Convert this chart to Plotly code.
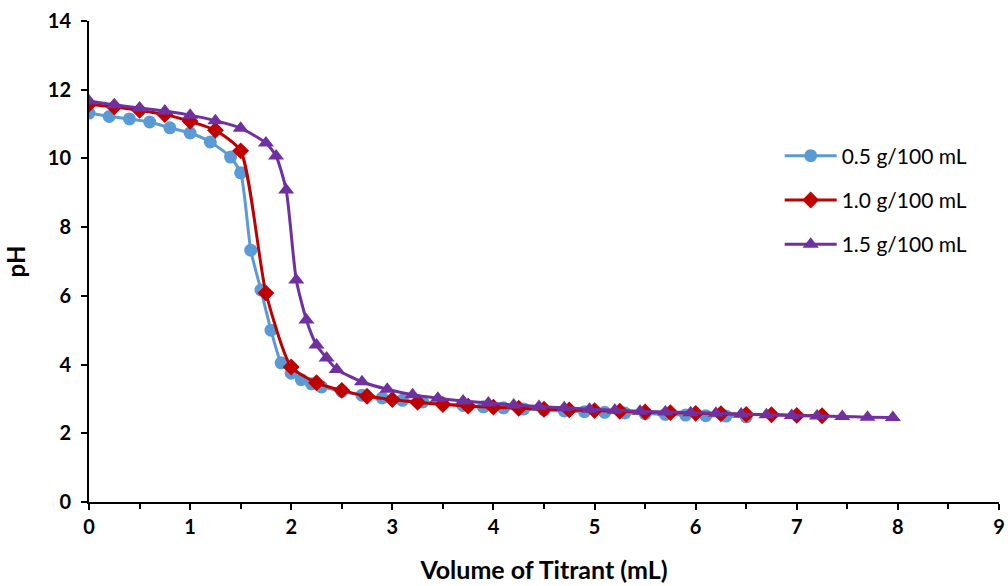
import plotly.graph_objects as go

# 0.5 g/100 mL
x_05 = [0, 0.2, 0.4, 0.6, 0.8, 1.0, 1.2, 1.4, 1.5, 1.6, 1.7, 1.8, 1.9, 2.0, 2.1, 2.2, 2.3,
        2.5, 2.7, 2.9, 3.1, 3.3, 3.5, 3.7, 3.9, 4.1, 4.3, 4.5, 4.7, 4.9, 5.1, 5.3, 5.5,
        5.7, 5.9, 6.1, 6.3, 6.5]
y_05 = [11.32, 11.22, 11.15, 11.06, 10.89, 10.74, 10.48, 10.04, 9.58, 7.33, 6.17, 5.0, 4.05,
        3.75, 3.56, 3.44, 3.35, 3.22, 3.11, 3.03, 2.96, 2.91, 2.86, 2.81, 2.77, 2.74, 2.71,
        2.68, 2.65, 2.63, 2.61, 2.59, 2.57, 2.55, 2.53, 2.51, 2.50, 2.48]

# 1.0 g/100 mL
x_10 = [0, 0.25, 0.5, 0.75, 1.0, 1.25, 1.5, 1.75, 2.0, 2.25, 2.5, 2.75, 3.0, 3.25, 3.5,
        3.75, 4.0, 4.25, 4.5, 4.75, 5.0, 5.25, 5.5, 5.75, 6.0, 6.25, 6.5, 6.75, 7.0, 7.25]
y_10 = [11.58, 11.50, 11.40, 11.28, 11.08, 10.82, 10.22, 6.08, 3.93, 3.47, 3.25, 3.08,
        2.98, 2.90, 2.84, 2.79, 2.76, 2.73, 2.70, 2.68, 2.66, 2.64, 2.62, 2.60, 2.58, 2.57,
        2.55, 2.54, 2.52, 2.51]

# 1.5 g/100 mL
x_15 = [0, 0.25, 0.5, 0.75, 1.0, 1.25, 1.5, 1.75, 1.85, 1.95, 2.05, 2.15, 2.25, 2.35, 2.45,
        2.7, 2.95, 3.2, 3.45, 3.7, 3.95, 4.2, 4.45, 4.7, 4.95, 5.2, 5.45, 5.7, 5.95, 6.2,
        6.45, 6.7, 6.95, 7.2, 7.45, 7.7, 7.95]
y_15 = [11.67, 11.56, 11.47, 11.38, 11.26, 11.10, 10.88, 10.45, 10.07, 9.08, 6.46, 5.30,
        4.57, 4.19, 3.86, 3.50, 3.28, 3.12, 3.02, 2.94, 2.88, 2.82, 2.78, 2.74, 2.70, 2.67,
        2.64, 2.62, 2.60, 2.58, 2.56, 2.54, 2.52, 2.50, 2.49, 2.47, 2.46]

names = ["0.5 g/100 mL", "1.0 g/100 mL", "1.5 g/100 mL"]
colors = ["#5B9BD5", "#C00000", "#7030A0"]
symbols = ["circle", "diamond", "triangle-up"]
sizes = [13, 13, 14]

FONT = "Lato"

fig = go.Figure()
for i, (xs, ys, nm, c, s, sz) in enumerate(zip([x_05, x_10, x_15], [y_05, y_10, y_15], names, colors, symbols, sizes)):
    fig.add_trace(go.Scatter(
        x=xs, y=ys, name=nm, mode="lines+markers", legendgroup=f"g{i}",
        line=dict(color=c, width=3, shape="spline", smoothing=0.6),
        marker=dict(symbol=s, size=sz, color=c, line=dict(width=0)),
    ))

fig.update_layout(
    width=1008, height=586,
    margin=dict(l=89, r=9, t=21, b=84),
    paper_bgcolor="white", plot_bgcolor="white",
    font=dict(family=FONT, color="black"),
    showlegend=True,
    legend=dict(
        x=0.759, y=0.762, xanchor="left", yanchor="top",
        font=dict(family=FONT, size=21, color="black"),
        itemwidth=52, tracegroupgap=14, bgcolor="rgba(0,0,0,0)",
    ),
    xaxis=dict(
        range=[0, 9], dtick=1, tick0=0, automargin=False,
        showgrid=False, zeroline=False,
        showline=True, linecolor="black", linewidth=2,
        ticks="outside", ticklen=6, tickwidth=2, tickcolor="black",
        minor=dict(dtick=0.5, ticks="outside", ticklen=5, tickwidth=2, tickcolor="black"),
        tickfont=dict(family=FONT, size=20, color="black", weight="bold"),
        title=dict(text="<b>Volume of Titrant (mL)</b>", font=dict(family=FONT, size=25, color="black"), standoff=24),
    ),
    yaxis=dict(
        range=[0, 14], dtick=2, tick0=0, automargin=False,
        showgrid=False, zeroline=False,
        showline=True, linecolor="black", linewidth=2,
        ticks="outside", ticklen=6, tickwidth=2, tickcolor="black",
        ticklabelstandoff=6,
        tickfont=dict(family=FONT, size=20, color="black", weight="bold"),
        title=dict(text="<b>pH</b>", font=dict(family=FONT, size=24, color="black"), standoff=15),
    ),
)

fig.write_html(
    "out.html",
    config={"displayModeBar": False},
    post_script="document.body.style.margin='0';document.body.style.overflow='hidden';",
)
